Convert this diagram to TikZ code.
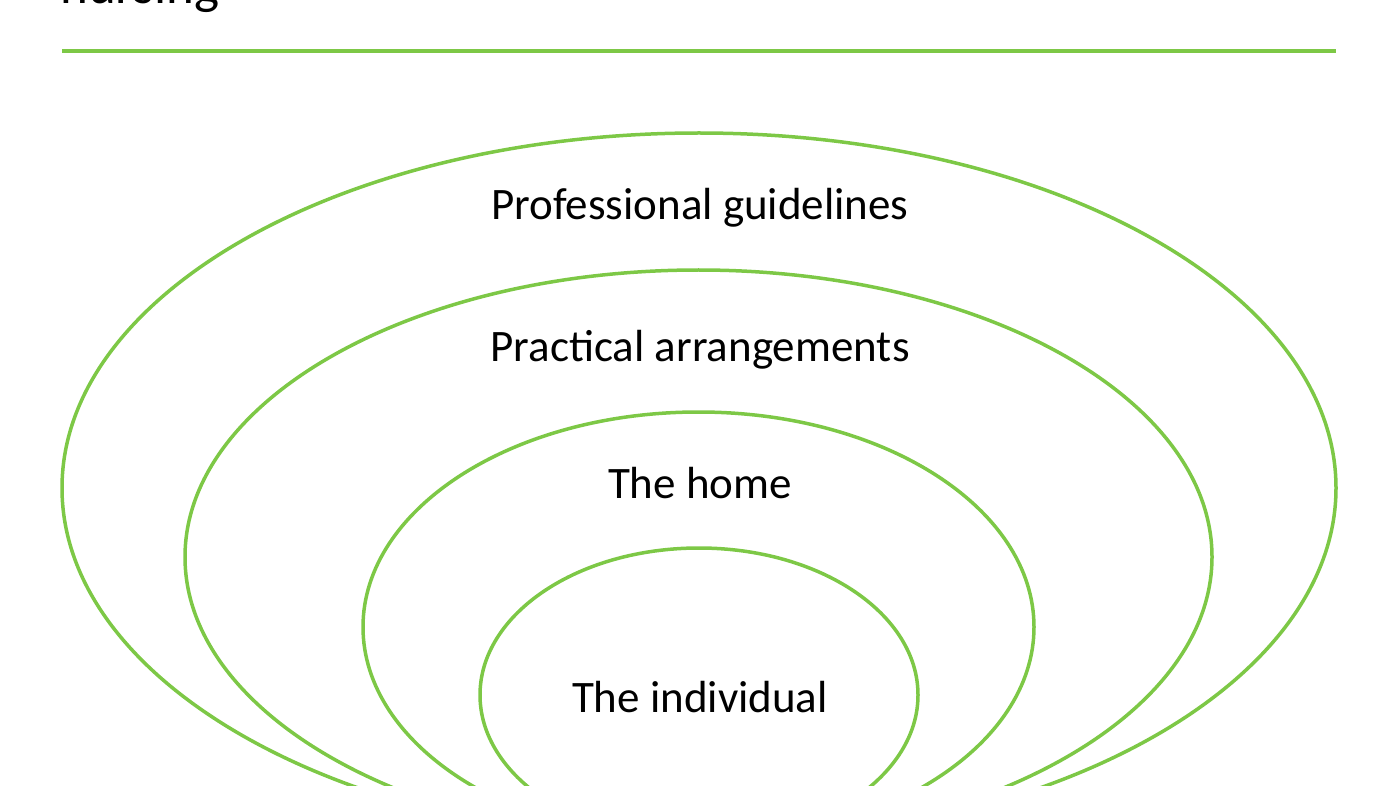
\documentclass[tikz,border=0pt]{standalone}
\usepackage{fontspec}
\setmainfont{Carlito}
\definecolor{grn}{RGB}{125,200,70}
\begin{document}
\begin{tikzpicture}[x=1pt,y=-1pt,
  ring/.style={draw=grn,line width=3.5pt},
  lbl/.style={font=\fontsize{45}{48}\selectfont,inner sep=0pt}]
\useasboundingbox (0,0) rectangle (1400,786);
\clip (0,0) rectangle (1400,786);
\node[anchor=base west,inner sep=0pt,font=\fontsize{53}{56}\selectfont] (title) at (60,4) {nursing};
\draw[draw=grn,line width=3.5pt] (62,51) coordinate (la) -- (1336,51) coordinate (lb);
\draw[ring] (699,488) ellipse [x radius=637,y radius=355];
\draw[ring] (698.5,557) ellipse [x radius=513.5,y radius=287];
\draw[ring] (698.5,627) ellipse [x radius=335.5,y radius=215];
\draw[ring] (699,695) ellipse [x radius=219,y radius=147];
\node[lbl] (a) at (700,208) {Professional guidelines};
\node[lbl] (b) at (700,350) {Practical arrangements};
\node[lbl] (c) at (700,483) {The home};
\node[lbl] (d) at (700,697) {The individual};
\end{tikzpicture}
\end{document}
